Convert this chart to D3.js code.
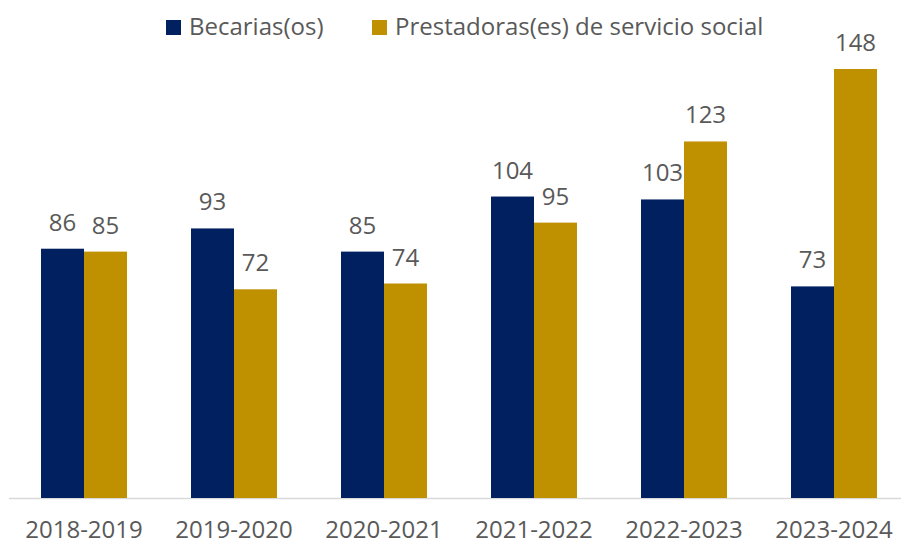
<!DOCTYPE html>
<html>
<head>
<meta charset="utf-8">
<script src="https://cdn.jsdelivr.net/npm/d3@7"></script>
<style>
  body { margin: 0; background: #fff; }
  text { font-family: "Open Sans", sans-serif; fill: #595959; }
</style>
</head>
<body>
<svg id="chart" width="901" height="546"></svg>
<script>
const periods = ["2018-2019", "2019-2020", "2020-2021", "2021-2022", "2022-2023", "2023-2024"];
const seriesNames = ["Becarias(os)", "Prestadoras(es) de servicio social"];
const becarias = [86, 93, 85, 104, 103, 73];
const prestadoras = [85, 72, 74, 95, 123, 148];
const colors = ["#002060", "#BF9000"];

const svg = d3.select("#chart");
const baseline = 498;

const x = d3.scaleBand().domain(periods).range([9, 909]).paddingInner(0).paddingOuter(0);
const y = d3.scaleLinear().domain([0, 148]).range([baseline, 69]);
const barW = 43;

const rows = periods.map((p, i) => ({ period: p, values: [becarias[i], prestadoras[i]] }));

// axis line
svg.append("line")
  .attr("x1", 9).attr("x2", 901)
  .attr("y1", baseline + 0.5).attr("y2", baseline + 0.5)
  .attr("stroke", "#d9d9d9").attr("stroke-width", 1.5);

const groups = svg.append("g").selectAll("g")
  .data(rows)
  .join("g")
  .attr("transform", d => `translate(${x(d.period) + x.bandwidth() / 2 - barW},0)`);

groups.selectAll("rect")
  .data(d => d.values)
  .join("rect")
  .attr("x", (d, i) => i * barW)
  .attr("y", d => y(d))
  .attr("width", barW)
  .attr("height", d => baseline - y(d))
  .attr("fill", (d, i) => colors[i]);

groups.selectAll("text")
  .data(d => d.values)
  .join("text")
  .attr("x", (d, i) => i * barW + barW / 2)
  .attr("y", d => y(d) - 18)
  .attr("text-anchor", "middle")
  .attr("font-size", 24)
  .text(d => d);

// x labels
svg.append("g").selectAll("text")
  .data(periods)
  .join("text")
  .attr("x", d => x(d) + x.bandwidth() / 2)
  .attr("y", 538)
  .attr("text-anchor", "middle")
  .attr("font-size", 24)
  .text(d => d);

// legend
const legendX = [166, 372];
const legend = svg.append("g").selectAll("g")
  .data(seriesNames)
  .join("g")
  .attr("transform", (d, i) => `translate(${legendX[i]},20)`);
legend.append("rect").attr("width", 15).attr("height", 15).attr("fill", (d, i) => colors[i]);
legend.append("text").attr("x", 23).attr("y", 15).attr("font-size", 24).text(d => d);
</script>
</body>
</html>
